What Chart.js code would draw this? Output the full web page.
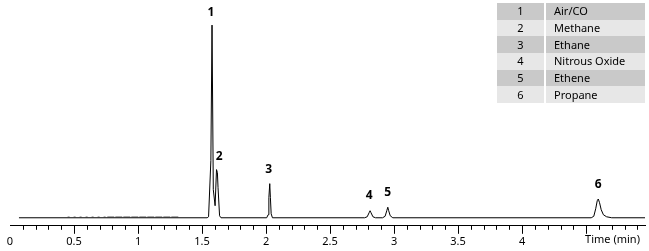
<!DOCTYPE html>
<html>
<head>
<meta charset="utf-8">
<script src="https://cdn.jsdelivr.net/npm/chart.js@4/dist/chart.umd.min.js"></script>
<style>
  body { margin: 0; background: #fff; }
  #wrap { position: relative; width: 649px; height: 251px; }
  #legendTable { position: absolute; left: 497px; top: 3px; border-collapse: collapse;
    font: 11px "Noto Sans", sans-serif; color: #000; }
  #legendTable td { height: 16.7px; padding: 0; line-height: 16px; }
  #legendTable td.num { width: 47px; text-align: center; border-right: 2px solid #fff; }
  #legendTable td.name { width: 91px; padding-left: 8px; }
  #legendTable tr.dark td { background: #c9c9c9; }
  #legendTable tr.light td { background: #e7e7e7; }
</style>
</head>
<body>
<div id="wrap">
  <canvas id="myChart"></canvas>
  <table id="legendTable"></table>
</div>
<script>
// chromatogram trace (time in min, detector signal)
var times = [0.07, 1.54, 1.551, 1.569, 1.578, 1.588, 1.602, 1.613, 1.620, 1.625, 1.637, 1.648,
             2.005, 2.016, 2.022, 2.029, 2.034, 2.040, 2.050,
             2.770, 2.790, 2.805, 2.8125, 2.820, 2.835, 2.855,
             2.910, 2.930, 2.943, 2.951, 2.958, 2.970, 2.990,
             4.540, 4.560, 4.575, 4.587, 4.595, 4.605, 4.618, 4.635, 4.660, 4.700, 4.960];
var signal = [0, 0, 1, 57, 192, 28, 12, 48, 45, 30, 2, 0,
              0, 3, 20, 34, 20, 4, 0,
              0, 1, 5, 7, 5, 1, 0,
              0, 1.5, 7, 10.5, 7, 2, 0,
              0, 1.5, 9, 17, 18.7, 15, 8, 3, 1, 0, 0];

// faint noise just above the baseline
var noiseTimesA = [0.45, 0.76];
var noiseTimesB = [0.76, 1.32];
var noiseLevel = 1;

// peak numbers and where they sit
var peakNames = ['1', '2', '3', '4', '5', '6'];
var peakLabelTimes = [1.570, 1.633, 2.020, 2.805, 2.950, 4.595];
var peakLabelValues = [204, 61, 48, 22, 25, 33];

var compoundNames = ['Air/CO', 'Methane', 'Ethane', 'Nitrous Oxide', 'Ethene', 'Propane'];

var xMin = 0, xMax = 4.96;
var timeLabel = 'Time (min)';
var timeLabelAt = 4.5;

function toPoints(xs, ys) {
    return xs.map(function (x, i) { return { x: x, y: ys[i] }; });
}

// legend table
var table = document.getElementById('legendTable');
for (var i = 0; i < compoundNames.length; i++) {
    var tr = document.createElement('tr');
    tr.className = (i % 2 === 0) ? 'dark' : 'light';
    tr.innerHTML = '<td class="num">' + peakNames[i] + '</td><td class="name">' + compoundNames[i] + '</td>';
    table.appendChild(tr);
}

var decorPlugin = {
    id: 'decor',
    afterDraw: function (chart) {
        var ctx = chart.ctx;
        var xs = chart.scales.x, ys = chart.scales.y;
        ctx.save();
        // tick marks: long at every 0.5, short in between
        ctx.strokeStyle = '#000';
        ctx.lineWidth = 1;
        xs.ticks.forEach(function (t) {
            if (t.value <= 0) return;
            var px = Math.round(xs.getPixelForValue(t.value)) + 0.5;
            var major = Math.abs(t.value * 2 - Math.round(t.value * 2)) < 1e-6;
            ctx.beginPath();
            ctx.moveTo(px, xs.top);
            ctx.lineTo(px, xs.top + (major ? 8 : 4));
            ctx.stroke();
        });
        // axis title in place of the 4.5 label
        ctx.fillStyle = '#000';
        ctx.font = '11px "Noto Sans", sans-serif';
        ctx.textAlign = 'left';
        ctx.textBaseline = 'middle';
        ctx.fillText(timeLabel, xs.getPixelForValue(timeLabelAt) - 1, 240);
        // peak numbers
        ctx.font = 'bold 12px "Noto Sans", sans-serif';
        ctx.textAlign = 'center';
        for (var i = 0; i < peakNames.length; i++) {
            ctx.fillText(peakNames[i], xs.getPixelForValue(peakLabelTimes[i]), ys.getPixelForValue(peakLabelValues[i]));
        }
        ctx.restore();
    }
};

var config = {
    type: 'line',
    data: {
        datasets: [{
            data: toPoints(times, signal),
            borderColor: '#000',
            borderWidth: 1,
            pointRadius: 0,
            tension: 0,
            order: 1
        }, {
            data: toPoints(noiseTimesA, [noiseLevel, noiseLevel]),
            borderColor: '#9a9a9a',
            borderWidth: 1,
            borderDash: [2, 4],
            pointRadius: 0,
            order: 2
        }, {
            data: toPoints(noiseTimesB, [noiseLevel, noiseLevel]),
            borderColor: '#8a8a8a',
            borderWidth: 1,
            borderDash: [7, 1],
            pointRadius: 0,
            order: 2
        }]
    },
    options: {
        responsive: true,
        maintainAspectRatio: false,
        animation: false,
        layout: { padding: { left: 10, right: 4, top: 0, bottom: 2 } },
        plugins: { legend: { display: false }, tooltip: { enabled: false } },
        scales: {
            x: {
                type: 'linear',
                min: xMin,
                max: xMax,
                border: { display: true, color: '#000', width: 1 },
                grid: { display: true, drawOnChartArea: false, drawTicks: true, tickLength: 8, tickColor: 'rgba(0,0,0,0)' },
                ticks: {
                    stepSize: 0.1,
                    autoSkip: false,
                    includeBounds: false,
                    maxRotation: 0,
                    padding: 1,
                    color: '#000',
                    font: { family: '"Noto Sans", sans-serif', size: 11 },
                    callback: function (v) {
                        var r = Math.round(v * 10) / 10;
                        if (Math.abs(r * 2 - Math.round(r * 2)) < 1e-9 && r <= 4) return String(r);
                        return '';
                    }
                }
            },
            y: { display: false, min: -8, max: 217 }
        }
    },
    plugins: [decorPlugin]
};

new Chart(document.getElementById('myChart'), config);
</script>
</body>
</html>
